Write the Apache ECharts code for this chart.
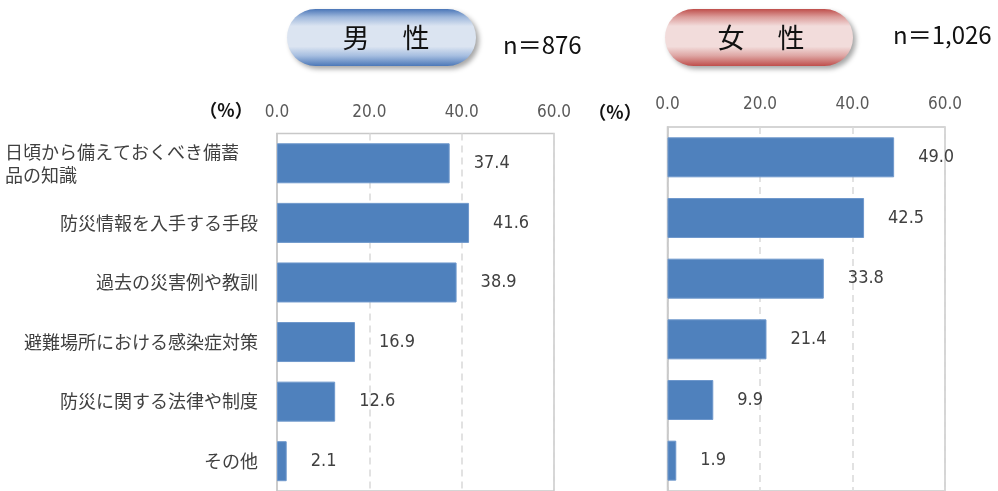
<!DOCTYPE html>
<html>
<head>
<meta charset="utf-8">
<script src="https://cdn.jsdelivr.net/npm/echarts@6/dist/echarts.min.js"></script>
<style>
  html, body { margin: 0; padding: 0; background: #fff; }
  #chart { width: 998px; height: 491px; }
</style>
</head>
<body>
<div id="chart"></div>
<script>
// Topics of disaster-prevention knowledge wanted, by gender (%)
const categories = [
  '日頃から備えておくべき備蓄品の知識',
  '防災情報を入手する手段',
  '過去の災害例や教訓',
  '避難場所における感染症対策',
  '防災に関する法律や制度',
  'その他'
];
const maleValues = [37.4, 41.6, 38.9, 16.9, 12.6, 2.1];
const femaleValues = [49.0, 42.5, 33.8, 21.4, 9.9, 1.9];
const maleTitle = '男\u3000 性';
const femaleTitle = '女\u3000 性';
const maleN = 'n＝876';
const femaleN = 'n＝1,026';
const unitLabel = '（%）';

const chart = echarts.init(document.getElementById('chart'));

const numFont = '"DejaVu Sans Condensed", "DejaVu Sans Mono", monospace';
const jpFont = '"Noto Sans CJK JP", sans-serif';
const barColor = '#4f81bd';

function valueAxis(gridIndex, margin) {
  return {
    type: 'value',
    gridIndex: gridIndex,
    position: 'top',
    min: 0,
    max: 60,
    interval: 20,
    axisLine: { show: false },
    axisTick: { show: false },
    axisLabel: {
      margin: margin,
      color: '#595959',
      fontFamily: numFont,
      fontSize: 17,
      formatter: v => v.toFixed(1)
    },
    splitLine: {
      show: true,
      lineStyle: { color: '#d9d9d9', width: 1.5, type: [7, 5] }
    }
  };
}

function categoryAxis(gridIndex, showLabels) {
  return {
    type: 'category',
    gridIndex: gridIndex,
    data: categories,
    inverse: true,
    axisLine: { show: true, lineStyle: { color: '#c8c8c8', width: 1.5 } },
    axisTick: { show: false },
    axisLabel: {
      show: showLabels,
      margin: 19,
      color: '#404040',
      fontFamily: jpFont,
      fontSize: 18,
      lineHeight: 23,
      formatter: function (v, i) {
        if (i === 0) {
          return '{w|日頃から備えておくべき備蓄}\n{w|品の知識}';
        }
        return v;
      },
      rich: {
        w: {
          width: 253,
          align: 'left',
          color: '#404040',
          fontFamily: jpFont,
          fontSize: 18,
          lineHeight: 23
        }
      }
    }
  };
}

function barSeries(axisIndex, data) {
  return {
    type: 'bar',
    xAxisIndex: axisIndex,
    yAxisIndex: axisIndex,
    data: data,
    barWidth: 40,
    itemStyle: { color: barColor, borderColor: '#6f98cc', borderWidth: 1 },
    label: {
      show: true,
      position: 'right',
      distance: 24,
      color: '#404040',
      fontFamily: numFont,
      fontSize: 18,
      formatter: p => p.value.toFixed(1)
    }
  };
}

function pill(x, y, w, h, stops, title, textX) {
  return [
    {
      type: 'rect',
      left: x,
      top: y,
      shape: { width: w, height: h, r: h / 2 },
      style: {
        fill: new echarts.graphic.LinearGradient(0, 0, 0, 1, stops),
        shadowBlur: 5,
        shadowOffsetX: 3,
        shadowOffsetY: 3,
        shadowColor: 'rgba(0,0,0,0.35)'
      },
      z: 10
    },
    {
      type: 'text',
      x: textX,
      y: y + h / 2,
      style: {
        text: title,
        fill: '#111',
        font: '27px "Noto Sans CJK JP", sans-serif',
        textAlign: 'center',
        textVerticalAlign: 'middle'
      },
      z: 11
    }
  ];
}

const blueStops = [
  { offset: 0, color: '#4a76b8' },
  { offset: 0.14, color: '#9fb8dc' },
  { offset: 0.3, color: '#dbe4f1' },
  { offset: 0.66, color: '#dbe4f1' },
  { offset: 0.82, color: '#a6bee0' },
  { offset: 1, color: '#4c78b8' }
];
const redStops = [
  { offset: 0, color: '#bf4e4b' },
  { offset: 0.14, color: '#dc9d9b' },
  { offset: 0.3, color: '#f2dcdb' },
  { offset: 0.66, color: '#f2dcdb' },
  { offset: 0.82, color: '#dea6a4' },
  { offset: 1, color: '#bf4e4b' }
];

chart.setOption({
  animation: false,
  grid: [
    { left: 277, top: 133.5, width: 277, height: 360, show: true,
      borderColor: '#c8c8c8', borderWidth: 1.5, backgroundColor: 'transparent' },
    { left: 667.5, top: 127, width: 277.5, height: 366, show: true,
      borderColor: '#c8c8c8', borderWidth: 1.5, backgroundColor: 'transparent' }
  ],
  xAxis: [valueAxis(0, 12), valueAxis(1, 14)],
  yAxis: [categoryAxis(0, true), categoryAxis(1, false)],
  series: [barSeries(0, maleValues), barSeries(1, femaleValues)],
  graphic: [
    ...pill(287, 9, 189, 57, blueStops, maleTitle, 386),
    ...pill(665, 9, 188, 57, redStops, femaleTitle, 761),
    {
      type: 'text', x: 503, y: 45,
      style: { text: maleN, fill: '#111', font: '24px "Noto Sans CJK JP", sans-serif',
        textAlign: 'left', textVerticalAlign: 'middle' }
    },
    {
      type: 'text', x: 893, y: 35,
      style: { text: femaleN, fill: '#111', font: '24px "Noto Sans CJK JP", sans-serif',
        textAlign: 'left', textVerticalAlign: 'middle' }
    },
    {
      type: 'text', x: 226, y: 110,
      style: { text: unitLabel, fill: '#111', font: 'bold 18px "Noto Sans CJK JP", sans-serif',
        textAlign: 'center', textVerticalAlign: 'middle' }
    },
    {
      type: 'text', x: 615, y: 112,
      style: { text: unitLabel, fill: '#111', font: 'bold 18px "Noto Sans CJK JP", sans-serif',
        textAlign: 'center', textVerticalAlign: 'middle' }
    }
  ]
});
</script>
</body>
</html>
